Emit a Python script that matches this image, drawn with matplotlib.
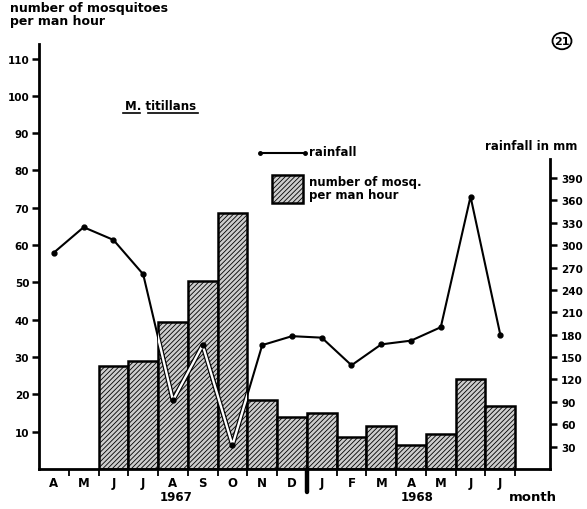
import matplotlib
matplotlib.use("Agg")
import matplotlib.pyplot as plt
from matplotlib.path import Path
from matplotlib.patches import Rectangle, Circle
import numpy as np

# --- data -----------------------------------------------------------------
months = ['A', 'M', 'J', 'J', 'A', 'S', 'O', 'N', 'D',
          'J', 'F', 'M', 'A', 'M', 'J', 'J']
# rainfall in mm, April 1967 .. July 1968
rainfall = [290, 324, 307, 261, 92, 166, 32, 166, 178,
            176, 139, 167, 172, 190, 365, 180]
# mosquitoes per man hour, June 1967 .. July 1968
mosq_first_month = 2
mosquitoes = [27.5, 29, 39.5, 50.5, 68.5, 18.5, 14, 15,
              8.5, 11.5, 6.5, 9.5, 24, 17]
left_ticks = [10, 20, 30, 40, 50, 60, 70, 80, 90, 100, 110]
right_ticks = [30, 60, 90, 120, 150, 180, 210, 240, 270, 300, 330, 360, 390]
years = [('1967', 4.6), ('1968', 12.7)]

W, H = 587, 510
fig = plt.figure(figsize=(W / 100, H / 100), dpi=100)
plt.rcParams['hatch.linewidth'] = 0.6
plt.rcParams['hatch.color'] = '#222222'

FONT = dict(family='DejaVu Sans', fontweight='bold')
BAR_FACE = '#cdcdcd'
BAR_HATCH = '///////'

left, right, bottom, top = 39, 550, 470, 45
ax = fig.add_axes([left / W, 1 - bottom / H, (right - left) / W, (bottom - top) / H])
ymax = 113.9
xmax = 17.17
ax.set_xlim(0, xmax)
ax.set_ylim(0, ymax)

# bars
bx = np.arange(len(mosquitoes)) + mosq_first_month + 0.5
bars = ax.bar(bx, mosquitoes, width=1.0, facecolor=BAR_FACE, edgecolor='black',
              linewidth=1.8, hatch=BAR_HATCH, zorder=2)

# spines
for s in ['top', 'right']:
    ax.spines[s].set_visible(False)
for s in ['left', 'bottom']:
    ax.spines[s].set_linewidth(2.0)

ax.set_yticks(left_ticks)
ax.set_yticklabels([str(t) for t in left_ticks], **FONT, fontsize=7.5)
ax.tick_params(axis='y', direction='out', length=5, width=1.8, pad=2)

edges = np.arange(1, len(months) + 1)
ax.set_xticks(edges)
ax.set_xticklabels([])
ax.tick_params(axis='x', direction='out', length=5, width=1.3)
ax.set_xticks(np.arange(len(months)) + 0.5, minor=True)
ax.set_xticklabels(months, minor=True, **FONT, fontsize=8.5)
ax.tick_params(axis='x', which='minor', length=0, pad=5)

# year separator between December and January
ax.plot([9, 9], [0, -6.2], color='black', lw=3.2, clip_on=False,
        solid_capstyle='round', zorder=5)

for label, xpos in years:
    ax.text(xpos, -7.5, label, ha='center', va='center', fontsize=8.5, **FONT)
ax.text(16.6, -7.5, 'month', ha='center', va='center', fontsize=9.5, **FONT)

# rainfall on secondary axis
ax2 = ax.twinx()
ax2.set_ylim(0, ymax * 5)
for s in ['top', 'left', 'bottom']:
    ax2.spines[s].set_visible(False)
ax2.spines['right'].set_linewidth(2.0)
ax2.spines['right'].set_bounds(0, 416)
ax2.set_yticks(right_ticks)
ax2.set_yticklabels([str(t) for t in right_ticks], **FONT, fontsize=7.5)
ax2.tick_params(axis='y', direction='out', length=5, width=1.8, pad=3)

rx = np.arange(len(rainfall)) + 0.5
ax2.plot(rx, rainfall, color='black', lw=1.5, zorder=3)

# inside the bars the line is drawn open: black edges with a white core
verts, codes = [], []
for b in bars:
    x0, y0 = b.get_x(), b.get_y()
    w, h = b.get_width(), b.get_height()
    verts += [(x0, y0), (x0 + w, y0), (x0 + w, y0 + h), (x0, y0 + h), (x0, y0)]
    codes += [Path.MOVETO, Path.LINETO, Path.LINETO, Path.LINETO, Path.CLOSEPOLY]
clip = Path(verts, codes)
l_out, = ax2.plot(rx, rainfall, color='black', lw=3.4, zorder=3.1)
l_in, = ax2.plot(rx, rainfall, color='white', lw=1.7, zorder=3.2)
for ln in (l_out, l_in):
    ln.set_clip_path(clip, ax.transData)
ax2.plot(rx, rainfall, ls='none', marker='o', ms=3.5, color='black', zorder=3.3)

# header texts
fig.text(10 / W, 1 - 15 / H, 'number of mosquitoes\nper man hour', ha='left', va='center',
         fontsize=9, linespacing=0.95, **FONT)
fig.text(485 / W, 1 - 146 / H, 'rainfall in mm', ha='left', va='center', fontsize=8.5, **FONT)
fig.text(161 / W, 1 - 106 / H, 'M. titillans', ha='center', va='center', fontsize=8.5, **FONT)
fig.add_artist(plt.Line2D([123 / W, 140 / W], [1 - 114 / H] * 2, color='black', lw=1.2))
fig.add_artist(plt.Line2D([148 / W, 198 / W], [1 - 114 / H] * 2, color='black', lw=1.2))

# circled figure number
fig.add_artist(Circle((562 / W, 1 - 42 / H), 9.5 / W, transform=fig.transFigure,
                      fill=False, lw=1.3, color='black'))
fig.text(562 / W, 1 - 42 / H, '21', ha='center', va='center', fontsize=8, **FONT)

# legend
fig.add_artist(plt.Line2D([260 / W, 305 / W], [1 - 154 / H] * 2, color='black', lw=1.5,
                          marker='o', ms=2.5, markevery=[0, 1]))
fig.text(309 / W, 1 - 153 / H, 'rainfall', ha='left', va='center', fontsize=8.5, **FONT)
fig.add_artist(Rectangle((272 / W, 1 - 204 / H), 31 / W, 28 / H, transform=fig.transFigure,
                         facecolor=BAR_FACE, edgecolor='black', lw=1.8, hatch=BAR_HATCH))
fig.text(309 / W, 1 - 189 / H, 'number of mosq.\nper man hour', ha='left', va='center',
         fontsize=8.5, linespacing=0.95, **FONT)

fig.savefig('out.png', dpi=100)
